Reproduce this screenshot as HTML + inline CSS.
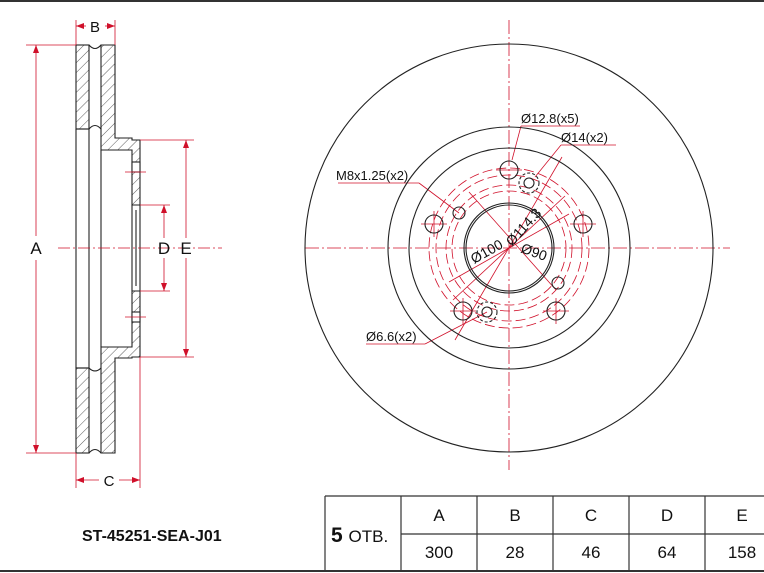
<!DOCTYPE html>
<html><head><meta charset="utf-8"><style>
html,body{margin:0;padding:0;background:#fff;}
svg{display:block;font-family:"Liberation Sans",Arial,sans-serif;}
</style></head><body>
<svg width="764" height="573" viewBox="0 0 764 573" xmlns="http://www.w3.org/2000/svg">
<defs>
<pattern id="h" patternUnits="userSpaceOnUse" width="7" height="7" patternTransform="rotate(45)">
<line x1="0" y1="0" x2="0" y2="7" stroke="#333" stroke-width="0.8"/>
</pattern>
</defs>
<line x1="0" y1="1" x2="764" y2="1" stroke="#333" stroke-width="2"/>

<!-- side view -->
<g stroke="#222" stroke-width="1.1" fill="none">
<rect x="76" y="45" width="13" height="84" fill="url(#h)"/>
<rect x="76" y="368" width="13" height="85" fill="url(#h)"/>
<path d="M101 45 H115 V138 H132 V140 H140 V205 H132 V150 H101 Z" fill="url(#h)"/>
<path d="M101 453 H115 V358 H132 V357 H140 V291 H132 V347 H101 Z" fill="url(#h)"/>
<path d="M89 45 Q95 52 101 45 M89 453 Q95 446 101 453 M89 129 Q95 122 101 129 M89 368 Q95 374 101 368"/>
<line x1="76" y1="129" x2="76" y2="368"/>
<line x1="89" y1="129" x2="89" y2="368"/>
<line x1="101" y1="150" x2="101" y2="347"/>
<line x1="76" y1="129" x2="89" y2="129"/><line x1="76" y1="368" x2="89" y2="368"/>
<line x1="132" y1="205" x2="132" y2="291"/>
<line x1="136" y1="210" x2="136" y2="286"/>
<line x1="140" y1="205" x2="140" y2="291"/>
<rect x="132" y="162" width="8" height="10" fill="#fff"/>
<rect x="132" y="312" width="8" height="10" fill="#fff"/>
</g>
<g stroke="#d0102a" stroke-width="0.8" fill="none">
<line x1="76" y1="20" x2="76" y2="45"/><line x1="115" y1="20" x2="115" y2="45"/>
<line x1="76" y1="453" x2="76" y2="488"/><line x1="140" y1="357" x2="140" y2="488"/>
<line x1="26" y1="45" x2="76" y2="45"/><line x1="26" y1="453" x2="76" y2="453"/>
<line x1="140" y1="140" x2="194" y2="140"/><line x1="140" y1="357" x2="194" y2="357"/>
<line x1="140" y1="205" x2="170" y2="205"/><line x1="140" y1="291" x2="170" y2="291"/>
<line x1="36" y1="45" x2="36" y2="236"/><line x1="36" y1="260" x2="36" y2="453"/>
<line x1="164" y1="205" x2="164" y2="238"/><line x1="164" y1="258" x2="164" y2="291"/>
<line x1="186" y1="140" x2="186" y2="238"/><line x1="186" y1="258" x2="186" y2="357"/>
<line x1="76" y1="26" x2="86" y2="26"/><line x1="105" y1="26" x2="115" y2="26"/>
<line x1="76" y1="480" x2="99" y2="480"/><line x1="119" y1="480" x2="140" y2="480"/>
<line x1="125" y1="172" x2="146" y2="172"/><line x1="125" y1="317" x2="146" y2="317"/>
<line x1="58" y1="248" x2="222" y2="248" stroke-dasharray="12,3,2,3"/>
</g>
<g fill="#d0102a">
<path d="M36 45 l-3 8 h6z M36 453 l-3 -8 h6z M164 205 l-3 8 h6z M164 291 l-3 -8 h6z M186 140 l-3 8 h6z M186 357 l-3 -8 h6z M76 26 l8 -3 v6z M115 26 l-8 -3 v6z M76 480 l8 -3 v6z M140 480 l-8 -3 v6z"/>
</g>
<g font-size="17" fill="#111" text-anchor="middle">
<text x="36" y="254">A</text><text x="164" y="254">D</text><text x="186" y="254">E</text>
</g>
<g font-size="15" fill="#111" text-anchor="middle">
<text x="95" y="32">B</text><text x="109" y="486">C</text>
</g>

<!-- front view -->
<g stroke="#d0102a" stroke-width="0.8" fill="none">
<line x1="305" y1="248" x2="730" y2="248" stroke-dasharray="14,3,2,3"/>
<line x1="509" y1="20" x2="509" y2="470" stroke-dasharray="14,3,2,3"/>
<g stroke-dasharray="10,4">
<circle cx="509" cy="248" r="57"/><circle cx="509" cy="248" r="63"/><circle cx="509" cy="248" r="73"/><circle cx="509" cy="248" r="80"/>
</g>
<line x1="449" y1="282" x2="569" y2="214"/>
<line x1="453" y1="300" x2="565" y2="196"/>
<line x1="469" y1="192" x2="556" y2="290"/>
<line x1="455" y1="340" x2="562" y2="157"/>
<line x1="338" y1="183" x2="419" y2="183"/><line x1="419" y1="183" x2="459" y2="213"/>
<line x1="521" y1="126" x2="580" y2="126"/><line x1="521" y1="126" x2="512" y2="160"/>
<line x1="561" y1="145" x2="616" y2="145"/><line x1="561" y1="145" x2="535" y2="177"/>
<line x1="366" y1="344" x2="425" y2="344"/><line x1="425" y1="344" x2="487" y2="312"/>
<g>
<line x1="496" y1="170" x2="522" y2="170"/><line x1="421" y1="224" x2="447" y2="224"/><line x1="570" y1="224" x2="596" y2="224"/>
<line x1="450" y1="311" x2="476" y2="311"/><line x1="543" y1="311" x2="569" y2="311"/>
<line x1="434" y1="211" x2="434" y2="237"/><line x1="583" y1="211" x2="583" y2="237"/>
<line x1="463" y1="298" x2="463" y2="324"/><line x1="556" y1="298" x2="556" y2="324"/>
</g>
</g>
<g stroke="#222" stroke-width="1.1" fill="none">
<circle cx="509" cy="248" r="204"/>
<circle cx="509" cy="248" r="121"/>
<circle cx="509" cy="248" r="100"/>
<circle cx="509" cy="248" r="45"/><circle cx="509" cy="248" r="43"/>
<circle cx="509" cy="170" r="9"/><circle cx="434" cy="224" r="9"/><circle cx="583" cy="224" r="9"/>
<circle cx="463" cy="311" r="9"/><circle cx="556" cy="311" r="9"/>
<circle cx="459" cy="213" r="6"/><circle cx="558" cy="283" r="6"/>
<circle cx="529" cy="183" r="5"/><circle cx="487" cy="312" r="5"/>
<circle cx="529" cy="183" r="10" stroke-dasharray="3,2"/><circle cx="487" cy="312" r="10" stroke-dasharray="3,2"/>
</g>
<g font-size="13" fill="#111">
<text x="521" y="123">Ø12.8(x5)</text>
<text x="561" y="142">Ø14(x2)</text>
<text x="336" y="180">M8x1.25(x2)</text>
<text x="366" y="341">Ø6.6(x2)</text>
<text x="0" y="0" font-size="14" transform="translate(474,264) rotate(-29)">Ø100</text>
<text x="0" y="0" font-size="14" transform="translate(512,247) rotate(-48)">Ø114.3</text>
<text x="0" y="0" font-size="14" transform="translate(520,252) rotate(20)">Ø90</text>
</g>

<!-- table -->
<g stroke="#333" stroke-width="1.2" fill="none">
<line x1="325" y1="496" x2="764" y2="496"/>
<line x1="401" y1="534" x2="764" y2="534"/>
<line x1="0" y1="571" x2="764" y2="571" stroke-width="2"/>
<line x1="325" y1="496" x2="325" y2="571"/>
<line x1="401" y1="496" x2="401" y2="571"/>
<line x1="477" y1="496" x2="477" y2="571"/>
<line x1="553" y1="496" x2="553" y2="571"/>
<line x1="629" y1="496" x2="629" y2="571"/>
<line x1="705" y1="496" x2="705" y2="571"/>
</g>
<g font-size="17" fill="#111" text-anchor="middle">
<text x="439" y="521">A</text><text x="515" y="521">B</text><text x="591" y="521">C</text><text x="667" y="521">D</text><text x="742" y="521">E</text>
<text x="439" y="558">300</text><text x="515" y="558">28</text><text x="591" y="558">46</text><text x="667" y="558">64</text><text x="742" y="558">158</text>
</g>
<text x="331" y="542" font-size="21" font-weight="bold" fill="#111">5 <tspan font-size="17" font-weight="normal">ОТВ.</tspan></text>
<text x="82" y="541" font-size="16" font-weight="bold" fill="#111">ST-45251-SEA-J01</text>
</svg>
</body></html>
